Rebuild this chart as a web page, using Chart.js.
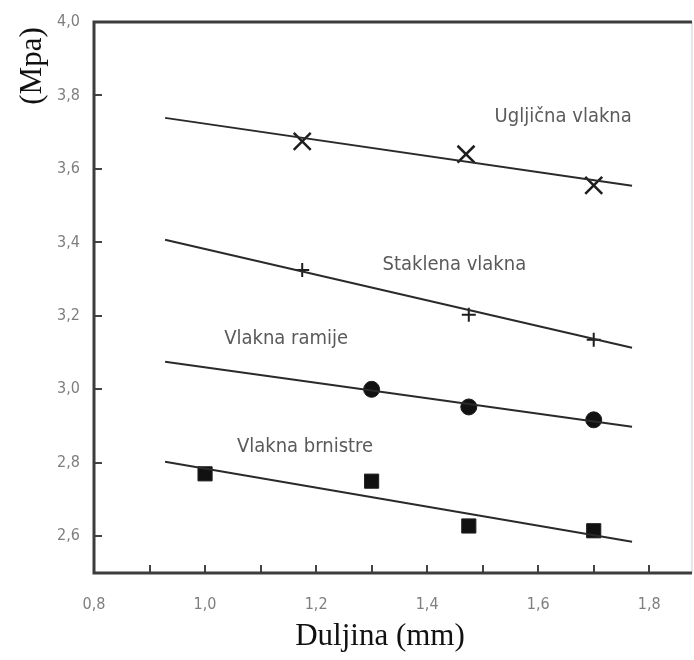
<!DOCTYPE html>
<html>
<head>
<meta charset="utf-8">
<script src="https://cdn.jsdelivr.net/npm/chart.js@4/dist/chart.umd.min.js"></script>
<style>
  html, body { margin: 0; padding: 0; background: #fff; }
  #wrap { width: 694px; height: 660px; position: relative; }
</style>
</head>
<body>
<div id="wrap"><canvas id="grafico"></canvas></div>
<script>
// measured points (Duljina mm, Mpa)
const ugljicnaX = [1.175, 1.47, 1.70];
const ugljicnaY = [3.675, 3.64, 3.555];
const staklenaX = [1.175, 1.475, 1.70];
const staklenaY = [3.325, 3.203, 3.135];
const ramijeX = [1.30, 1.475, 1.70];
const ramijeY = [3.0, 2.952, 2.917];
const brnistreX = [1.0, 1.30, 1.475, 1.70];
const brnistreY = [2.77, 2.75, 2.628, 2.615];

// fitted trend lines: [start, end]
const fitX = [0.928, 1.769];
const ugljicnaFit = [3.739, 3.554];
const staklenaFit = [3.407, 3.113];
const ramijeFit = [3.075, 2.898];
const brnistreFit = [2.803, 2.585];

const labels = ['Ugljična vlakna', 'Staklena vlakna', 'Vlakna ramije', 'Vlakna brnistre'];
const labelX = [1.645, 1.449, 1.146, 1.180];
const labelY = [3.741, 3.339, 3.137, 2.843];

const xTicks = [0.8, 1.0, 1.2, 1.4, 1.6, 1.8];
const yTicks = [2.6, 2.8, 3.0, 3.2, 3.4, 3.6, 3.8, 4.0];

const narrow = "'Liberation Sans Narrow', 'DejaVu Sans Condensed', 'Roboto Condensed', sans-serif";
const pts = (xs, ys) => xs.map((x, i) => ({ x, y: ys[i] }));
const zarez = v => v.toFixed(1).replace('.', ',');

function tocke(xs, ys, style, r, bw) {
  return {
    data: pts(xs, ys), showLine: false, pointStyle: style, pointRadius: r,
    pointBackgroundColor: '#111', pointBorderColor: '#1e1e1e', pointBorderWidth: bw
  };
}
function linija(ys) {
  return {
    data: pts(fitX, ys), showLine: true, pointRadius: 0,
    borderColor: '#2a2a2a', borderWidth: 2
  };
}

const okvir = {
  id: 'okvir',
  afterDatasetsDraw(chart) {
    const { ctx, chartArea: a, scales: { x, y } } = chart;
    ctx.save();
    // small inward ticks
    ctx.strokeStyle = '#444';
    ctx.lineWidth = 2;
    for (let v = 0.9; v < 1.85; v += 0.1) {
      const px = Math.round(x.getPixelForValue(v));
      ctx.beginPath(); ctx.moveTo(px, a.bottom); ctx.lineTo(px, a.bottom - 8); ctx.stroke();
    }
    yTicks.slice(0, -1).forEach(v => {
      const py = Math.round(y.getPixelForValue(v));
      ctx.beginPath(); ctx.moveTo(a.left, py); ctx.lineTo(a.left + 8, py); ctx.stroke();
    });
    // frame
    ctx.strokeStyle = '#ccc';
    ctx.lineWidth = 1;
    ctx.beginPath(); ctx.moveTo(a.right, a.top); ctx.lineTo(a.right, a.bottom); ctx.stroke();
    ctx.strokeStyle = '#3c3c3c';
    ctx.lineWidth = 3;
    ctx.beginPath();
    ctx.moveTo(a.right, a.top); ctx.lineTo(a.left, a.top);
    ctx.lineTo(a.left, a.bottom); ctx.lineTo(a.right, a.bottom);
    ctx.stroke();

    // tick labels
    ctx.fillStyle = '#7e7e7e';
    ctx.font = '16px ' + narrow;
    ctx.textAlign = 'center'; ctx.textBaseline = 'middle';
    xTicks.forEach(v => ctx.fillText(zarez(v), x.getPixelForValue(v), a.bottom + 32));
    ctx.textAlign = 'right';
    yTicks.forEach(v => ctx.fillText(zarez(v), a.left - 14, y.getPixelForValue(v)));

    // series labels
    ctx.fillStyle = '#5a5a5a';
    ctx.font = '20px ' + narrow;
    ctx.textAlign = 'center';
    labels.forEach((t, i) => ctx.fillText(t, x.getPixelForValue(labelX[i]), y.getPixelForValue(labelY[i])));

    // axis titles
    ctx.fillStyle = '#111';
    ctx.font = '31px "Liberation Serif", "DejaVu Serif", serif';
    ctx.textAlign = 'center';
    ctx.textBaseline = 'alphabetic';
    ctx.fillText('Duljina (mm)', 380, 645);
    ctx.translate(41, 66);
    ctx.rotate(-Math.PI / 2);
    ctx.fillText('(Mpa)', 0, 0);
    ctx.restore();
  }
};

new Chart(document.getElementById('grafico'), {
  type: 'scatter',
  data: {
    datasets: [
      linija(ugljicnaFit), linija(staklenaFit), linija(ramijeFit), linija(brnistreFit),
      tocke(ugljicnaX, ugljicnaY, 'crossRot', 12, 2.5),
      tocke(staklenaX, staklenaY, 'cross', 7, 2),
      tocke(ramijeX, ramijeY, 'circle', 8, 1),
      tocke(brnistreX, brnistreY, 'rect', 10, 1)
    ]
  },
  options: {
    responsive: true,
    maintainAspectRatio: false,
    animation: false,
    layout: { autoPadding: false, padding: { top: 22, right: 2, left: 0, bottom: 0 } },
    plugins: { legend: { display: false }, tooltip: { enabled: false } },
    scales: {
      x: {
        type: 'linear', min: 0.8, max: 1.877,
        grid: { display: false }, border: { display: false },
        ticks: { display: false },
        afterFit: s => { s.height = 87; }
      },
      y: {
        type: 'linear', min: 2.5, max: 4.0,
        grid: { display: false }, border: { display: false },
        ticks: { display: false },
        afterFit: s => { s.width = 94; }
      }
    }
  },
  plugins: [okvir]
});
</script>
</body>
</html>
